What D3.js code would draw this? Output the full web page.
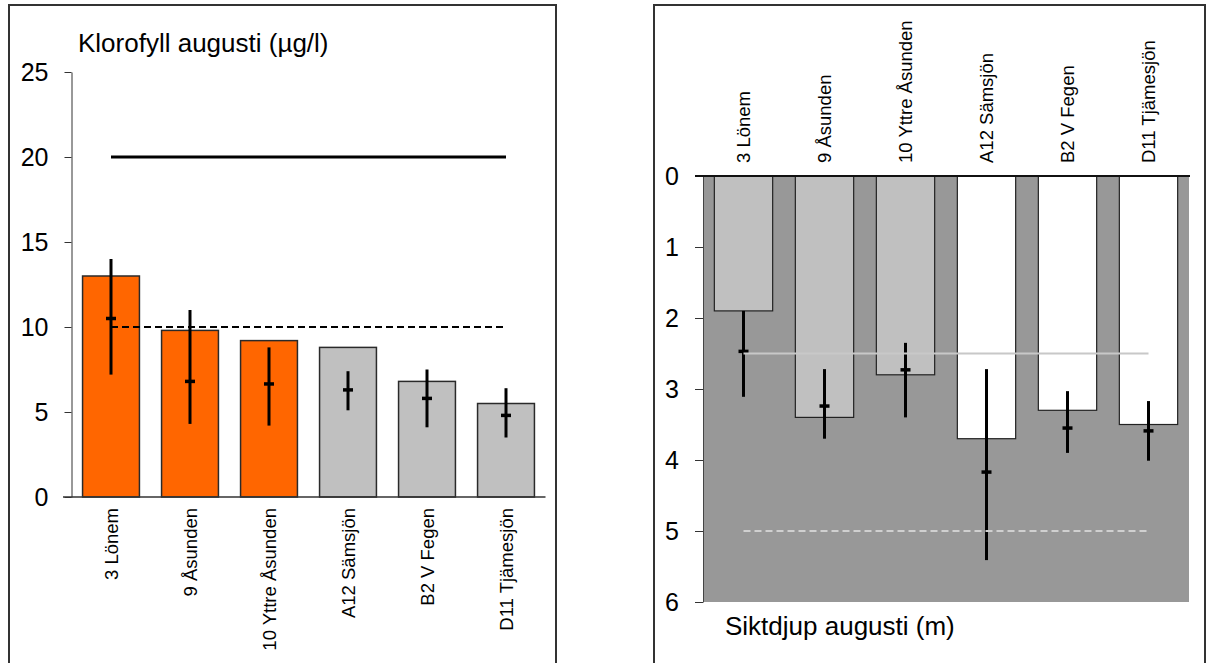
<!DOCTYPE html>
<html>
<head>
    <meta charset='utf-8'>
    <title>Klorofyll och siktdjup augusti</title>
    <style>
    body {
      margin: 0;
      background: #fff;
      font-family: 'Liberation Sans', Arial, sans-serif;
    }
    text {
      fill: #000;
    }
    </style>
    <script src='https://d3js.org/d3.v7.min.js'></script>
</head>
<body>
<div id="container"></div>
<script>
// ******* Data *******
const stations = ["3 Lönem", "9 Åsunden", "10 Yttre Åsunden", "A12 Sämsjön", "B2 V Fegen", "D11 Tjämesjön"];
const groups = ["a", "a", "a", "b", "b", "b"];

// Klorofyll (µg/l)
const chlBars = [13.0, 9.8, 9.2, 8.8, 6.8, 5.5];
const chlMean = [10.5, 6.8, 6.65, 6.3, 5.8, 4.8];
const chlLow  = [7.2, 4.3, 4.2, 5.1, 4.1, 3.5];
const chlHigh = [14.0, 11.0, 8.8, 7.4, 7.5, 6.4];
const chlTicks = [0, 5, 10, 15, 20, 25];
const chlSolid = 20, chlDashed = 10;

// Siktdjup (m)
const siktBars = [1.9, 3.4, 2.8, 3.7, 3.3, 3.5];
const siktMean = [2.47, 3.24, 2.73, 4.17, 3.55, 3.59];
const siktLow  = [1.9, 2.72, 2.35, 2.72, 3.03, 3.17];
const siktHigh = [3.11, 3.7, 3.4, 5.41, 3.9, 4.01];
const siktTicks = [0, 1, 2, 3, 4, 5, 6];
const siktSolid = 2.5, siktDashed = 5;

// ******* Create SVG *******
const width = 1207, height = 663,
      labelsize = 18.5;
const svg = d3.select("#container").append("svg")
    .attr("width", width)
    .attr("height", height)
    .style("display", "block");

// panel frames (they run off the bottom of the picture)
svg.append("rect").attr("x", 9).attr("y", 5).attr("width", 547).attr("height", 700)
    .attr("fill", "none").attr("stroke", "#333").attr("stroke-width", 2);
svg.append("rect").attr("x", 654).attr("y", 5).attr("width", 551).attr("height", 700)
    .attr("fill", "none").attr("stroke", "#333").attr("stroke-width", 2);

function errorBars(g, x, y, mean, low, high) {
  const eb = g.append("g");
  stations.forEach(function(s, i) {
    const cx = x(s) + x.bandwidth() / 2;
    eb.append("line")
        .attr("x1", cx).attr("x2", cx)
        .attr("y1", y(low[i])).attr("y2", y(high[i]))
        .attr("stroke", "#000").attr("stroke-width", 3);
    eb.append("line")
        .attr("x1", cx - 5).attr("x2", cx + 5)
        .attr("y1", y(mean[i])).attr("y2", y(mean[i]))
        .attr("stroke", "#000").attr("stroke-width", 3.5);
  });
}

// ******* Left chart: Klorofyll *******
const xL = d3.scaleBand().domain(stations).range([71.5, 545.5]).paddingInner(0.28).paddingOuter(0.14);
const yL = d3.scaleLinear().domain([0, 25]).range([497, 72]);
const colorL = d3.scaleOrdinal().domain(["a", "b"]).range(["#ff6600", "#c0c0c0"]);

const gL = svg.append("g");

gL.selectAll("rect.bar")
    .data(stations)
    .enter().append("rect")
    .attr("class", "bar")
    .attr("x", d => xL(d))
    .attr("width", xL.bandwidth())
    .attr("y", (d, i) => yL(chlBars[i]))
    .attr("height", (d, i) => yL(0) - yL(chlBars[i]))
    .attr("fill", (d, i) => colorL(groups[i]))
    .attr("stroke", "#2a2a2a")
    .attr("stroke-width", 1.5);

errorBars(gL, xL, yL, chlMean, chlLow, chlHigh);

const lx1 = xL(stations[0]) + xL.bandwidth() / 2;
const lx2 = xL(stations[5]) + xL.bandwidth() / 2;
gL.append("line").attr("x1", lx1).attr("x2", lx2)
    .attr("y1", yL(chlSolid)).attr("y2", yL(chlSolid))
    .attr("stroke", "#000").attr("stroke-width", 3);
gL.append("line").attr("x1", lx1).attr("x2", lx2)
    .attr("y1", yL(chlDashed)).attr("y2", yL(chlDashed))
    .attr("stroke", "#000").attr("stroke-width", 2).attr("stroke-dasharray", "7,4");

// axes
const yAxisL = gL.append("g")
    .attr("transform", "translate(71.5,0)")
    .call(d3.axisLeft(yL).tickValues(chlTicks).tickFormat(d3.format("d"))
        .tickSize(7).tickPadding(16).tickSizeOuter(0));
yAxisL.selectAll("text").attr("font-size", 25).attr("font-family", "Liberation Sans, Arial, sans-serif");
yAxisL.select(".domain").attr("stroke", "#333");
yAxisL.selectAll(".tick line").attr("stroke", "#333");

gL.append("line").attr("x1", 63).attr("x2", 545.5)
    .attr("y1", yL(0)).attr("y2", yL(0))
    .attr("stroke", "#333").attr("stroke-width", 1.5);

gL.selectAll("text.xlab")
    .data(stations)
    .enter().append("text")
    .attr("class", "xlab")
    .attr("transform", d => "translate(" + (xL(d) + xL.bandwidth() / 2 + 6.5) + ",508) rotate(-90)")
    .attr("text-anchor", "end")
    .attr("font-size", labelsize)
    .text(d => d);

gL.append("text")
    .attr("x", 78).attr("y", 52)
    .attr("font-size", 26)
    .text("Klorofyll augusti (µg/l)");

// ******* Right chart: Siktdjup *******
const xR = d3.scaleBand().domain(stations).range([703, 1189]).paddingInner(0.28).paddingOuter(0.14);
const yR = d3.scaleLinear().domain([0, 6]).range([176, 602]);
const colorR = d3.scaleOrdinal().domain(["a", "b"]).range(["#c0c0c0", "#ffffff"]);

const gR = svg.append("g");

gR.append("rect")
    .attr("x", xR.range()[0]).attr("y", yR(0))
    .attr("width", xR.range()[1] - xR.range()[0])
    .attr("height", yR(6) - yR(0))
    .attr("fill", "#989898");

gR.selectAll("rect.bar")
    .data(stations)
    .enter().append("rect")
    .attr("class", "bar")
    .attr("x", d => xR(d))
    .attr("width", xR.bandwidth())
    .attr("y", yR(0))
    .attr("height", (d, i) => yR(siktBars[i]) - yR(0))
    .attr("fill", (d, i) => colorR(groups[i]))
    .attr("stroke", "#222")
    .attr("stroke-width", 1.2);

errorBars(gR, xR, yR, siktMean, siktLow, siktHigh);

const rx1 = xR(stations[0]) + xR.bandwidth() / 2;
const rx2 = xR(stations[5]) + xR.bandwidth() / 2;
gR.append("line").attr("x1", rx1).attr("x2", rx2)
    .attr("y1", yR(siktSolid)).attr("y2", yR(siktSolid))
    .attr("stroke", "#c8c8c8").attr("stroke-width", 2);
gR.append("line").attr("x1", rx1).attr("x2", rx2)
    .attr("y1", yR(siktDashed)).attr("y2", yR(siktDashed))
    .attr("stroke", "#d0d0d0").attr("stroke-width", 2).attr("stroke-dasharray", "7,4");

const yAxisR = gR.append("g")
    .attr("transform", "translate(703,0)")
    .call(d3.axisLeft(yR).tickValues(siktTicks).tickFormat(d3.format("d"))
        .tickSize(8).tickPadding(16).tickSizeOuter(0));
yAxisR.selectAll("text").attr("font-size", 25).attr("font-family", "Liberation Sans, Arial, sans-serif");
yAxisR.select(".domain").attr("stroke", "#444");
yAxisR.selectAll(".tick line").attr("stroke", "#333");

gR.append("line").attr("x1", 695).attr("x2", 1190)
    .attr("y1", yR(0)).attr("y2", yR(0))
    .attr("stroke", "#111").attr("stroke-width", 2);

gR.selectAll("text.xlab")
    .data(stations)
    .enter().append("text")
    .attr("class", "xlab")
    .attr("transform", d => "translate(" + (xR(d) + xR.bandwidth() / 2 + 6.5) + ",163) rotate(-90)")
    .attr("text-anchor", "start")
    .attr("font-size", labelsize)
    .text(d => d);

gR.append("text")
    .attr("x", 725).attr("y", 635)
    .attr("font-size", 26)
    .text("Siktdjup augusti (m)");
</script>
</body>
</html>
